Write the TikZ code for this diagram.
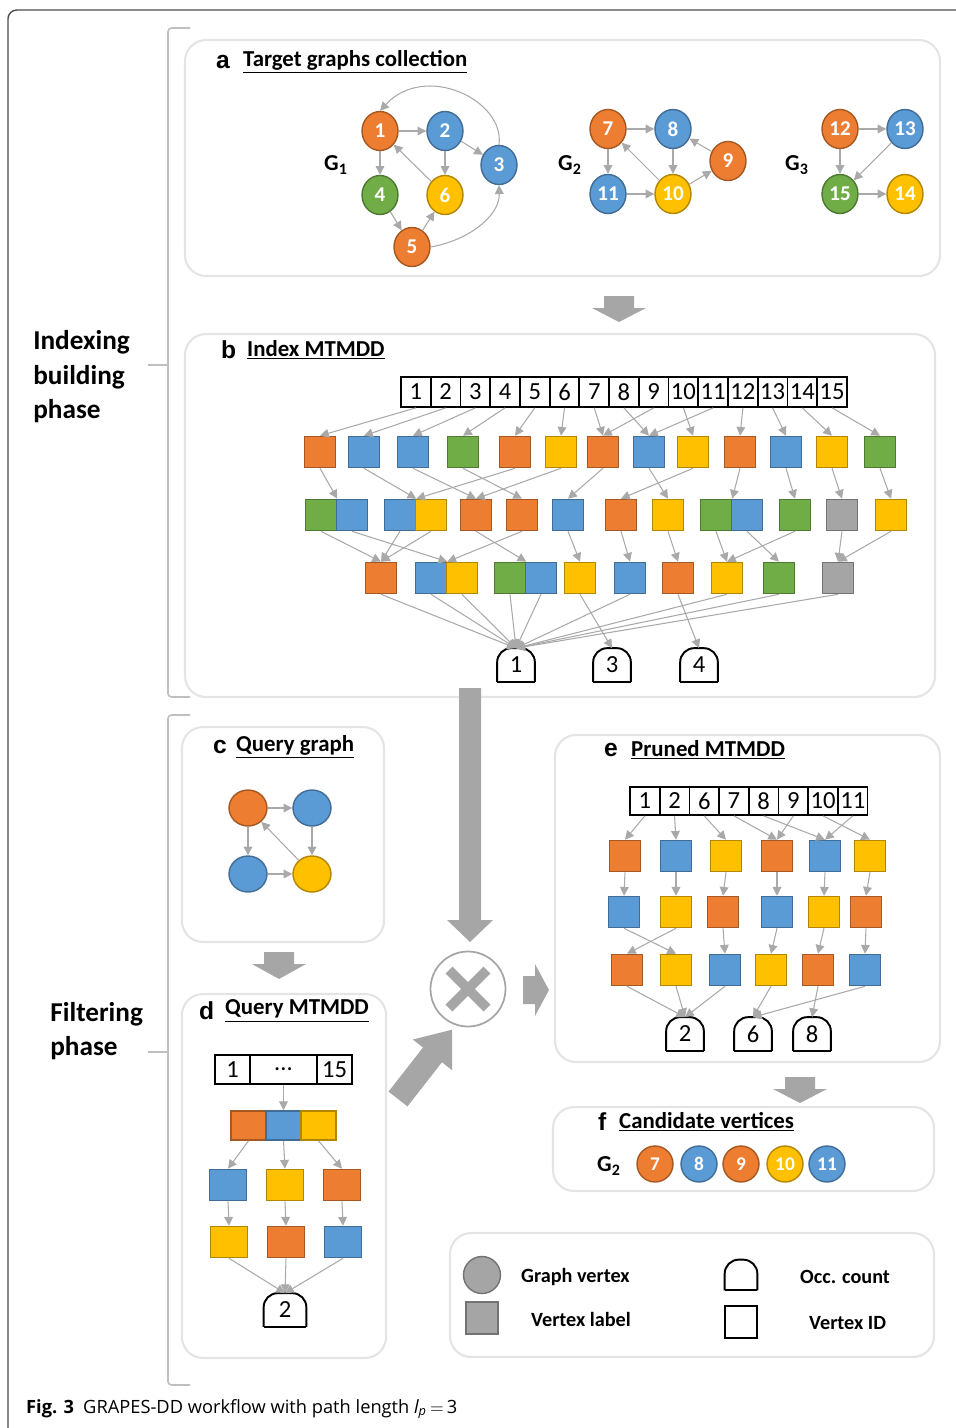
\documentclass[tikz,border=0pt]{standalone}
\usepackage{fontspec}
\setmainfont{Carlito}
\newfontfamily\capfont{Open Sans}
\newfontfamily\letfont{Liberation Sans}
\usepackage{tikz}
\usetikzlibrary{arrows.meta}
\usetikzlibrary{shapes.geometric, calc}

\definecolor{orng}{HTML}{ED7D31}
\definecolor{blu}{HTML}{5B9BD5}
\definecolor{ylw}{HTML}{FFC000}
\definecolor{grn}{HTML}{70AD47}
\definecolor{gry}{HTML}{A5A5A5}
\definecolor{edgegray}{HTML}{A9A9A9}
\definecolor{framegray}{HTML}{E4E4E4}
\definecolor{blockgray}{HTML}{A6A6A6}

\tikzset{
  panel/.style={draw=framegray, line width=1.2pt, rounded corners=12pt},
  vtx/.style={ellipse, fill=#1, draw=#1!70!black, line width=0.8pt, minimum width=0.72cm,
    minimum height=0.78cm, inner sep=0pt, text=white, font=\bfseries\fontsize{12}{12}\selectfont},
  qvtx/.style={ellipse, fill=#1, draw=#1!70!black, line width=0.8pt, minimum width=0.76cm,
    minimum height=0.72cm, inner sep=0pt},
  cvtx/.style={circle, fill=#1, draw=#1!70!black, line width=0.8pt, minimum size=0.72cm,
    inner sep=0pt, text=white, font=\bfseries\fontsize{11}{11}\selectfont},
  sq/.style={rectangle, fill=#1, draw=#1!70!black, line width=0.9pt, minimum size=0.62cm, inner sep=0pt},
  idcell/.style={rectangle, draw=black, line width=1pt, minimum width=0.595cm, minimum height=0.6cm,
    inner sep=0pt, font=\fontsize{14}{14}\selectfont},
  occnode/.style={minimum width=0.74cm, minimum height=0.66cm, inner sep=0pt, font=\fontsize{14}{14}\selectfont},
  edge/.style={draw=edgegray, line width=0.6pt, -{Triangle[length=5pt,width=5pt]}},
  brace/.style={draw=black!25, line width=0.9pt, rounded corners=2pt},
  title/.style={anchor=west, font=\bfseries\fontsize{13}{15}\selectfont},
  letter/.style={anchor=west, font=\letfont\bfseries\fontsize{14}{14}\selectfont},
  gname/.style={font=\bfseries\fontsize{13}{13}\selectfont},
  legtext/.style={anchor=west, font=\bfseries\fontsize{11.5}{13}\selectfont},
  phase/.style={anchor=west, align=left, inner sep=0pt, font=\bfseries\fontsize{15.5}{19.6}\selectfont},
}

% occurrence count box: arch on top, flat bottom
\newcommand{\occbox}[5][]{%
  \node[occnode,#1] (#2) at (#3,#4) {#5};
  \draw[line width=1.1pt, rounded corners=8pt] (#2.south west) -- (#2.north west) -- (#2.north east) -- (#2.south east);
  \draw[line width=1.1pt] (#2.south west) -- (#2.south east);}

% short grey block arrow pointing down: x, top, bottom
\newcommand{\blockdown}[3]{%
  \fill[blockgray] ({#1-15},#2) -- ({#1+15},#2) -- ({#1+15},{#2+12}) -- ({#1+27},{#2+12})
    -- (#1,#3) -- ({#1-27},{#2+12}) -- ({#1-15},{#2+12}) -- cycle;}

\begin{document}
\begin{tikzpicture}[x=0.02cm, y=-0.02cm]
    \useasboundingbox (0,0) rectangle (956,1428);

    % Cadre de la figure
    \draw[black!70, line width=0.8pt, rounded corners=5pt] (956,10) -- (8,10) -- (8,1428);

    % Accolades des phases
    \draw[brace] (190,28) -| (168,697) -- (190,697);
    \draw[brace] (168,365) -- (148,365);
    \node[phase] (phaseidx) at (33,377) {Indexing\\building\\phase};
    \draw[brace] (190,715) -| (168,1385) -- (190,1385);
    \draw[brace] (168,1052) -- (148,1052);
    \node[phase] (phasefilt) at (50,1031) {Filtering\\phase};

    % Panneaux
    \draw[panel] (185,40) rectangle (940,276);
    \draw[panel] (185,334) rectangle (935,697);
    \draw[panel] (182,727) rectangle (384,942);
    \draw[panel] (182,994) rectangle (386,1358);
    \draw[panel] (555,735) rectangle (940,1062);
    \draw[panel] (553,1107) rectangle (934,1191);
    \draw[panel] (450,1233) rectangle (934,1357);

    % Titres
    \node[letter] (ta) at (210,62) {a};
    \node[title] (tta) at (237,62) {\underline{Target graphs collection}};
    \node[letter] (tb) at (215,350) {b};
    \node[title] (ttb) at (241,350) {\underline{Index MTMDD}};
    \node[letter] (tc) at (207,747) {c};
    \node[title] (ttc) at (230,747) {\underline{Query graph}};
    \node[letter] (td) at (193,1011) {d};
    \node[title] (ttd) at (219,1011) {\underline{Query MTMDD}};
    \node[letter] (te) at (598,750) {e};
    \node[title] (tte) at (625,750) {\underline{Pruned MTMDD}};
    \node[letter] (tf) at (592,1122) {f};
    \node[title] (ttf) at (613,1122) {\underline{Candidate vertices}};

    % (a) G1
    \node[gname] (g1) at (336,165) {G\textsubscript{1}};
    \node[vtx=orng] (a1) at (380,131) {1};
    \node[vtx=blu] (a2) at (445,131) {2};
    \node[vtx=blu] (a3) at (499,165) {3};
    \node[vtx=grn] (a4) at (380,195) {4};
    \node[vtx=ylw] (a6) at (445,195) {6};
    \node[vtx=orng] (a5) at (412,247) {5};
    \draw[edge] (a1) -- (a2);
    \draw[edge] (a2) -- (a3);
    \draw[edge] (a2) -- (a6);
    \draw[edge] (a1) -- (a4);
    \draw[edge] (a6) -- (a1);
    \draw[edge] (a4) -- (a5);
    \draw[edge] (a5) -- (a6);
    \draw[edge] (a5.east) .. controls (470,240) and (500,215) .. (a3.south);
    \draw[edge] (a3.north) .. controls (505,100) and (425,62) .. (a1.north);

    % (a) G2
    \node[gname] (g2) at (570,165) {G\textsubscript{2}};
    \node[vtx=orng] (a7) at (608,129) {7};
    \node[vtx=blu] (a8) at (673,129) {8};
    \node[vtx=orng] (a9) at (728,161) {9};
    \node[vtx=blu] (a11) at (608,194) {11};
    \node[vtx=ylw] (a10) at (673,194) {10};
    \draw[edge] (a7) -- (a8);
    \draw[edge] (a7) -- (a11);
    \draw[edge] (a8) -- (a10);
    \draw[edge] (a10) -- (a7);
    \draw[edge] (a11) -- (a10);
    \draw[edge] (a10) -- (a9);
    \draw[edge] (a9) -- (a8);

    % (a) G3
    \node[gname] (g3) at (797,165) {G\textsubscript{3}};
    \node[vtx=orng] (a12) at (840,129) {12};
    \node[vtx=blu] (a13) at (905,129) {13};
    \node[vtx=grn] (a15) at (840,194) {15};
    \node[vtx=ylw] (a14) at (905,194) {14};
    \draw[edge] (a12) -- (a13);
    \draw[edge] (a12) -- (a15);
    \draw[edge] (a13) -- (a15);
    \draw[edge] (a15) -- (a14);

    % Fleche a -> b
    \blockdown{619}{296}{322}

    % (b) Index MTMDD
    \foreach \i in {1,...,15}
      \node[idcell] (id\i) at ({401+29.73*(\i-0.5)},392) {\i};
    \foreach \x/\c [count=\i] in {320/orng,364/blu,413/blu,463/grn,515/orng,561/ylw,603/orng,
        649/blu,693/ylw,740/orng,786/blu,832/ylw,880/grn}
      \node[sq=\c] (lvA\i) at (\x,452) {};
    \foreach \x/\c [count=\i] in {321/grn,352/blu,400/blu,431/ylw,476/orng,522/orng,568/blu,
        621/orng,668/ylw,716/grn,747/blu,795/grn,842/gry,891/ylw}
      \node[sq=\c] (lvB\i) at (\x,515) {};
    \foreach \x/\c [count=\i] in {381/orng,431/blu,462/ylw,510/grn,541/blu,580/ylw,630/blu,
        678/orng,727/ylw,779/grn,838/gry}
      \node[sq=\c] (lvC\i) at (\x,578) {};
    \occbox{occ1}{516}{665}{1}
    \occbox{occ3}{612}{665}{3}
    \occbox{occ4}{699}{665}{4}

    \foreach \s/\t in {1/1,2/2,3/3,4/4,5/5,6/6,7/7,8/8,9/7,10/9,11/8,12/10,13/11,14/12,15/13}
      \draw[edge] (id\s.south) -- (lvA\t.north);
    \foreach \s/\t in {1/1.north east,2/3.north east,3/5.north,4/6.north,5/3.north east,6/5.north,
        7/7.north,8/9.north,9/8.north,10/10.north east,11/12.north,12/13.north,13/14.north}
      \draw[edge] (lvA\s.south) -- (lvB\t);
    \foreach \s/\t in {1/1.north,2/2.north east,3/1.north,4/1.north,5/4.north east,6/2.north east,
        7/6.north,8/7.north,9/8.north,10/9.north,11/10.north,12/9.north,13/11.north,14/11.north}
      \draw[edge] (lvB\s.south) -- (lvC\t);
    \foreach \s/\t in {1/1,2/1,3/1,4/1,5/1,6/3,7/1,8/4,9/1,10/1,11/1}
      \draw[edge] (lvC\s.south) -- (occ\t.north);

    % (c) Query graph
    \node[qvtx=orng] (q1) at (248,808) {};
    \node[qvtx=blu] (q2) at (312,808) {};
    \node[qvtx=blu] (q3) at (248,874) {};
    \node[qvtx=ylw] (q4) at (312,874) {};
    \draw[edge] (q1) -- (q2);
    \draw[edge] (q1) -- (q3);
    \draw[edge] (q2) -- (q4);
    \draw[edge] (q3) -- (q4);
    \draw[edge] (q4) -- (q1);

    % Fleche c -> d
    \blockdown{279}{952}{979}

    % (d) Query MTMDD
    \node[idcell, minimum width=0.7cm, minimum height=0.58cm] (did1) at (232.5,1069.5) {1};
    \node[idcell, minimum width=1.34cm, minimum height=0.58cm] (didm) at (283.5,1069.5) {...};
    \node[idcell, minimum width=0.7cm, minimum height=0.58cm] (did15) at (334.5,1069.5) {15};
    \foreach \x/\c [count=\i] in {248.5/orng,283.5/blu,318.5/ylw}
      \node[sq=\c, minimum width=0.7cm, minimum height=0.58cm] (dA\i) at (\x,1125.5) {};
    \foreach \x/\c [count=\i] in {228/blu,285/ylw,342/orng}
      \node[sq=\c, minimum width=0.74cm] (dB\i) at (\x,1185) {};
    \foreach \x/\c [count=\i] in {229/ylw,286/orng,343/blu}
      \node[sq=\c, minimum width=0.74cm] (dC\i) at (\x,1242) {};
    \occbox[minimum width=0.84cm]{docc2}{285}{1310}{2}
    \draw[edge] (didm.south) -- (dA2.north);
    \foreach \i in {1,2,3} {
      \draw[edge] (dA\i.south) -- (dB\i.north);
      \draw[edge] (dB\i.south) -- (dC\i.north);
      \draw[edge] (dC\i.south) -- (docc2.north);
    }

    % Operateur de croisement
    \node[circle, draw=black!35, line width=1pt, minimum size=1.5cm] (cross) at (468,989) {};
    \draw[blockgray, line width=5.5pt] ($(cross.center)+(-19,-19)$) -- ($(cross.center)+(19,19)$);
    \draw[blockgray, line width=5.5pt] ($(cross.center)+(-19,19)$) -- ($(cross.center)+(19,-19)$);

    % Grande fleche b -> croisement
    \fill[blockgray] (459,688) -- (481,688) -- (481,920) -- (493,920) -- (470,942) -- (447,920)
      -- (459,920) -- cycle;
    % Fleche d -> croisement
    \begin{scope}[shift={(398,1099)}, x=0.02cm, y=0.02cm, rotate=52]
      \fill[blockgray] (0,-12) -- (56,-12) -- (56,-25) -- (88,0) -- (56,25) -- (56,12) -- (0,12) -- cycle;
    \end{scope}
    % Fleche croisement -> e
    \fill[blockgray] (523,976) -- (535,976) -- (535,964) -- (549,990) -- (535,1016) -- (535,1004)
      -- (523,1004) -- cycle;

    % (e) Pruned MTMDD
    \foreach \v [count=\i] in {1,2,6,7,8,9,10,11}
      \node[idcell, minimum width=0.594cm, minimum height=0.56cm] (eid\i) at ({630+29.7*(\i-0.5)},801) {\v};
    \foreach \x/\c [count=\i] in {625/orng,676/blu,726/ylw,777/orng,825/blu,870/ylw}
      \node[sq=\c] (eA\i) at (\x,856) {};
    \foreach \x/\c [count=\i] in {624/blu,676/ylw,723/orng,777/blu,824/ylw,866/orng}
      \node[sq=\c] (eB\i) at (\x,912) {};
    \foreach \x/\c [count=\i] in {627/orng,676/ylw,725/blu,771/ylw,818/orng,865/blu}
      \node[sq=\c] (eC\i) at (\x,970) {};
    \occbox{eocc2}{685}{1034}{2}
    \occbox{eocc6}{753}{1034}{6}
    \occbox{eocc8}{812}{1034}{8}
    \foreach \s/\t in {1/1,2/2,3/3,4/4,6/4,5/5,8/5,7/6}
      \draw[edge] (eid\s.south) -- (eA\t.north);
    \foreach \i in {1,...,6}
      \draw[edge] (eA\i.south) -- (eB\i.north);
    \foreach \s/\t in {1/2,2/1,3/3,4/4,5/5,6/6}
      \draw[edge] (eB\s.south) -- (eC\t.north);
    \foreach \s/\t in {1/2,2/2,3/2,4/6,5/8,6/6}
      \draw[edge] (eC\s.south) -- (eocc\t.north);

    % Fleche e -> f
    \blockdown{800}{1077}{1103}

    % (f) Candidate vertices
    \node[gname] (gf) at (609,1166) {G\textsubscript{2}};
    \foreach \v/\c/\x in {7/orng/655,8/blu/699,9/orng/741,10/ylw/785,11/blu/827}
      \node[cvtx=\c] (f\v) at (\x,1164) {\v};

    % Legende
    \node[circle, fill=gry, draw=gry!70!black, line width=0.8pt, minimum size=0.74cm] (lgv) at (482,1275) {};
    \node[sq=gry, minimum size=0.64cm] (lgl) at (482,1318) {};
    \node[legtext] (lgvt) at (515,1277) {Graph vertex};
    \node[legtext] (lglt) at (525,1319) {Vertex label};
    \occbox[minimum width=0.64cm, minimum height=0.6cm]{lgo}{741}{1275}{}
    \node[rectangle, draw=black, line width=1.1pt, minimum size=0.64cm] (lgid) at (741,1322) {};
    \node[legtext] (lgot) at (794,1277) {Occ. count};
    \node[legtext] (lgidt) at (803,1323) {Vertex ID};

    % Legende de la figure
    \node[anchor=west, font=\capfont\fontsize{10.4}{13}\selectfont] (cap) at (20,1409)
      {\textbf{Fig. 3}\enspace GRAPES-DD workflow with path length {\itshape l}\textsubscript{\itshape p}\,$=$\,3};
\end{tikzpicture}
\end{document}
